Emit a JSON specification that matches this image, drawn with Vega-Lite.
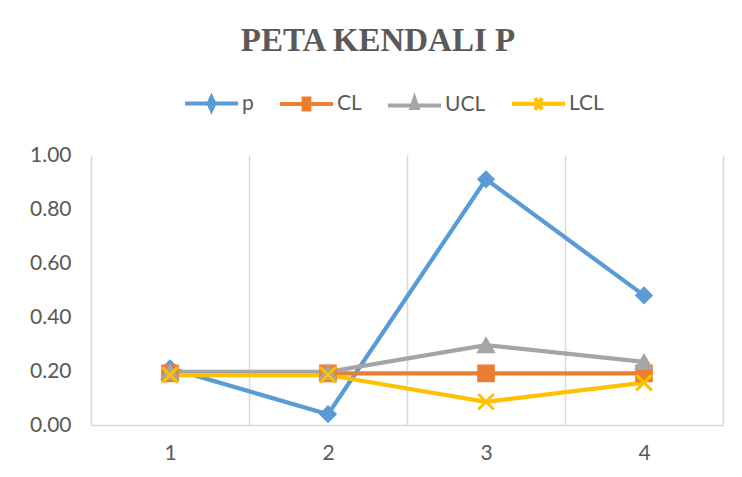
{
  "$schema": "https://vega.github.io/schema/vega-lite/v6.json",
  "width": 632,
  "height": 270,
  "autosize": {"type": "none"},
  "padding": {"left": 91, "top": 155, "right": 19, "bottom": 52},
  "background": "white",
  "config": {"view": {"stroke": null}, "font": "Lato"},
  "title": {
    "text": "PETA KENDALI P",
    "font": "Liberation Serif",
    "fontWeight": "bold",
    "fontSize": 33,
    "color": "#595959",
    "anchor": "middle",
    "frame": "group",
    "dx": -29,
    "dy": -3,
    "offset": 14
  },
  "data": {
    "values": [
      {"sample": 1, "series": "p", "value": 0.21},
      {"sample": 2, "series": "p", "value": 0.04},
      {"sample": 3, "series": "p", "value": 0.91},
      {"sample": 4, "series": "p", "value": 0.48},
      {"sample": 1, "series": "CL", "value": 0.191},
      {"sample": 2, "series": "CL", "value": 0.191},
      {"sample": 3, "series": "CL", "value": 0.191},
      {"sample": 4, "series": "CL", "value": 0.191},
      {"sample": 1, "series": "UCL", "value": 0.197},
      {"sample": 2, "series": "UCL", "value": 0.197},
      {"sample": 3, "series": "UCL", "value": 0.296},
      {"sample": 4, "series": "UCL", "value": 0.234},
      {"sample": 1, "series": "LCL", "value": 0.185},
      {"sample": 2, "series": "LCL", "value": 0.185},
      {"sample": 3, "series": "LCL", "value": 0.086},
      {"sample": 4, "series": "LCL", "value": 0.157}
    ]
  },
  "encoding": {
    "x": {
      "field": "sample",
      "type": "quantitative",
      "scale": {"domain": [0.5, 4.5], "nice": false, "zero": false},
      "axis": {
        "title": null,
        "values": [0.5, 1, 1.5, 2, 2.5, 3, 3.5, 4, 4.5],
        "labelExpr": "datum.value % 1 === 0 ? format(datum.value, 'd') : ''",
        "grid": true,
        "gridColor": "#D9D9D9",
        "gridWidth": 1.5,
        "gridOpacity": {"condition": {"test": "datum.value % 1 !== 0", "value": 1}, "value": 0},
        "ticks": false,
        "domainColor": "#D9D9D9",
        "domainWidth": 1.5,
        "labelFont": "Lato",
        "labelFontSize": 21,
        "labelColor": "#595959",
        "labelPadding": 17,
        "labelFlush": false,
        "labelOverlap": false
      }
    },
    "y": {
      "field": "value",
      "type": "quantitative",
      "scale": {"domain": [0, 1], "nice": false},
      "axis": {
        "title": null,
        "values": [0, 0.2, 0.4, 0.6, 0.8, 1],
        "format": ".2f",
        "grid": false,
        "domain": false,
        "ticks": false,
        "labelFont": "Lato",
        "labelFontSize": 21,
        "labelColor": "#595959",
        "labelPadding": 20
      }
    }
  },
  "layer": [
    {
      "mark": {"type": "line", "strokeWidth": 4.2},
      "encoding": {
        "color": {
          "field": "series",
          "type": "nominal",
          "scale": {"domain": ["p", "CL", "UCL", "LCL"], "range": ["#5B9BD5", "#ED7D31", "#A5A5A5", "#FFC000"]},
          "legend": {
            "orient": "none",
            "legendX": 92,
            "legendY": -80,
            "direction": "horizontal",
            "title": null,
            "padding": 0,
            "symbolSize": 2809,
            "symbolStrokeWidth": 4,
            "labelFont": "Lato",
            "labelFontSize": 21,
            "labelColor": "#595959",
            "labelOffset": 2,
            "columnPadding": 18,
            "encoding": {
              "symbols": {
                "shape": {"value": {"expr": "datum.value === 'p' ? 'M-1,0H1M0,-0.24L0.11,0L0,0.24L-0.11,0Z' : datum.value === 'CL' ? 'M-1,0H1M-0.11,-0.21H0.11V0.21H-0.11Z' : datum.value === 'UCL' ? 'M-1,0H1M0,-0.26L0.12,0.1H-0.12Z' : 'M-1,0H1M-0.13,-0.22L0.13,0.22M-0.13,0.22L0.13,-0.22'"}},
                "fill": {"value": {"expr": "scale('color', datum.value)"}},
                "stroke": {"value": {"expr": "scale('color', datum.value)"}},
                "strokeWidth": {"value": 4},
                "opacity": {"value": 1}
              }
            }
          }
        }
      }
    },
    {
      "transform": [{"filter": "datum.series === 'p'"}],
      "mark": {"type": "point", "shape": "diamond", "filled": true, "opacity": 1, "size": 260, "fill": "#5B9BD5", "stroke": "#5B9BD5", "strokeWidth": 1.5}
    },
    {
      "transform": [{"filter": "datum.series === 'CL'"}],
      "mark": {"type": "point", "shape": "square", "filled": true, "opacity": 1, "size": 260, "fill": "#ED7D31", "stroke": "#ED7D31", "strokeWidth": 1.5}
    },
    {
      "transform": [{"filter": "datum.series === 'UCL'"}],
      "mark": {"type": "point", "shape": "triangle-up", "filled": true, "opacity": 1, "size": 290, "fill": "#A5A5A5", "stroke": "#A5A5A5", "strokeWidth": 1.5}
    },
    {
      "transform": [{"filter": "datum.series === 'LCL'"}],
      "mark": {"type": "point", "shape": "M-1,-1L1,1M-1,1L1,-1", "filled": false, "opacity": 1, "size": 240, "stroke": "#FFC000", "strokeWidth": 3}
    }
  ]
}
